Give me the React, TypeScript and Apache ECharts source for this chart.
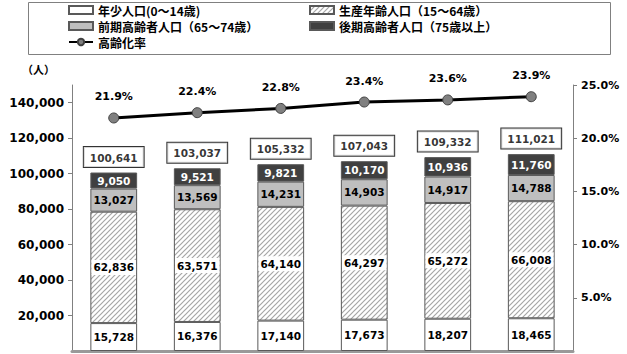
import React, { useEffect, useRef } from "react";
import * as echarts from "echarts";

const categories = ["1", "2", "3", "4", "5", "6"];
const young = [15728, 16376, 17140, 17673, 18207, 18465];
const working = [62836, 63571, 64140, 64297, 65272, 66008];
const earlyElderly = [13027, 13569, 14231, 14903, 14917, 14788];
const lateElderly = [9050, 9521, 9821, 10170, 10936, 11760];
const agingRate = [21.9, 22.4, 22.8, 23.4, 23.6, 23.9];
const leftTicks = [20000, 40000, 60000, 80000, 100000, 120000, 140000];

const NAMES = [
  "年少人口(0～14歳)",
  "生産年齢人口（15～64歳）",
  "前期高齢者人口（65～74歳）",
  "後期高齢者人口（75歳以上）",
  "高齢化率",
];

const NUM_FONT = "DejaVu Sans, Verdana, sans-serif";
const JP_FONT = "'Noto Sans CJK JP', sans-serif";

function fmt(v: number) {
  return v.toLocaleString("en-US");
}

function makeHatch() {
  const c = document.createElement("canvas");
  const s = 5;
  c.width = s;
  c.height = s;
  const ctx = c.getContext("2d")!;
  ctx.fillStyle = "#ffffff";
  ctx.fillRect(0, 0, s, s);
  ctx.strokeStyle = "#a6a6a6";
  ctx.lineWidth = 1.2;
  ctx.beginPath();
  ctx.moveTo(-1, s + 1);
  ctx.lineTo(s + 1, -1);
  ctx.moveTo(-1, 1);
  ctx.lineTo(1, -1);
  ctx.moveTo(s - 1, s + 1);
  ctx.lineTo(s + 1, s - 1);
  ctx.stroke();
  return c;
}

export default function App() {
  const ref = useRef<HTMLDivElement>(null);
  useEffect(() => {
    if (!ref.current) return;
    const chart = echarts.init(ref.current, undefined, { renderer: "svg" });
    const totals = young.map(
      (v, i) => v + working[i] + earlyElderly[i] + lateElderly[i]
    );
    const hatch = { image: makeHatch(), repeat: "repeat" };
    const border = "#595959";
    const barLabel = {
      show: true,
      position: "inside",
      fontFamily: NUM_FONT,
      fontWeight: "bold",
      fontSize: 10.5,
      color: "#000",
      formatter: (p: any) => fmt(p.value),
    };
    const legendText = {
      fontFamily: JP_FONT,
      fontWeight: "bold",
      fontSize: 12,
      color: "#000",
    };
    const mkLegend = (name: string, left: number, top: number, icon?: string) => ({
      data: [icon ? { name, icon } : name],
      left,
      top,
      itemWidth: 24,
      itemHeight: 8,
      itemGap: 0,
      padding: 0,
      textStyle: legendText,
      selectedMode: false,
    });
    chart.setOption({
      animation: false,
      backgroundColor: "#fff",
      legend: [
        mkLegend(NAMES[0], 68, 4, "rect"),
        mkLegend(NAMES[2], 68, 20, "rect"),
        mkLegend(NAMES[4], 68, 36),
        mkLegend(NAMES[1], 309, 4, "rect"),
        mkLegend(NAMES[3], 309, 20, "rect"),
      ],
      graphic: [
        {
          type: "rect",
          shape: { x: 28.5, y: 2.5, width: 582, height: 52 },
          style: { fill: "none", stroke: "#808080", lineWidth: 1 },
          silent: true,
        },
        {
          type: "text",
          x: 22,
          y: 63,
          style: {
            text: "（人）",
            fontFamily: JP_FONT,
            fontWeight: "bold",
            fontSize: 11,
            fill: "#000",
          },
        },
      ],
      grid: { left: 72, right: 54, top: 85, bottom: 3 },
      xAxis: {
        type: "category",
        data: categories,
        axisLine: { lineStyle: { color: "#999", width: 3 } },
        axisTick: { show: false },
        axisLabel: { show: false },
      },
      yAxis: [
        {
          type: "value",
          min: 0,
          max: 150000,
          splitLine: { show: false },
          axisLine: { show: true, lineStyle: { color: "#808080" } },
          axisTick: {
            show: true,
            length: 4,
            customValues: leftTicks,
            lineStyle: { color: "#808080" },
          },
          axisLabel: {
            customValues: leftTicks,
            formatter: (v: number) => fmt(v),
            fontFamily: NUM_FONT,
            fontWeight: "bold",
            fontSize: 12,
            color: "#000",
            margin: 8,
          },
        },
        {
          type: "value",
          min: 0,
          max: 25,
          interval: 5,
          position: "right",
          splitLine: { show: false },
          axisLine: { show: true, lineStyle: { color: "#808080" } },
          axisTick: { show: true, length: 4, lineStyle: { color: "#808080" } },
          axisLabel: {
            showMinLabel: false,
            formatter: (v: number) => v.toFixed(1) + "%",
            fontFamily: NUM_FONT,
            fontWeight: "bold",
            fontSize: 11,
            color: "#000",
            margin: 8,
          },
        },
      ],
      series: [
        {
          name: NAMES[0],
          type: "bar",
          stack: "pop",
          barWidth: "56%",
          data: young,
          itemStyle: { color: "#fff", borderColor: border, borderWidth: 1 },
          label: barLabel,
        },
        {
          name: NAMES[1],
          type: "bar",
          stack: "pop",
          data: working,
          itemStyle: { color: hatch, borderColor: border, borderWidth: 1 },
          label: { ...barLabel, backgroundColor: "#fff", padding: [2, 2] },
        },
        {
          name: NAMES[2],
          type: "bar",
          stack: "pop",
          data: earlyElderly,
          itemStyle: { color: "#bfbfbf", borderColor: border, borderWidth: 1 },
          label: barLabel,
        },
        {
          name: NAMES[3],
          type: "bar",
          stack: "pop",
          data: lateElderly,
          itemStyle: { color: "#404040", borderColor: border, borderWidth: 1 },
          label: { ...barLabel, color: "#fff" },
        },
        {
          name: "total",
          type: "scatter",
          data: totals,
          symbolSize: 1,
          itemStyle: { color: "rgba(0,0,0,0)" },
          label: {
            show: true,
            position: "top",
            distance: 5,
            formatter: (p: any) => fmt(p.value),
            fontFamily: NUM_FONT,
            fontWeight: "bold",
            fontSize: 10.5,
            color: "#000",
            backgroundColor: "#fff",
            borderColor: "#000",
            borderWidth: 1,
            padding: [5, 6, 4, 6],
          },
          z: 5,
        },
        {
          name: NAMES[4],
          type: "line",
          yAxisIndex: 1,
          data: agingRate,
          symbol: "circle",
          symbolSize: 10,
          lineStyle: { color: "#000", width: 3 },
          itemStyle: { color: "#808080", borderColor: "#404040", borderWidth: 1 },
          label: {
            show: true,
            position: "top",
            distance: 10,
            formatter: (p: any) => p.value.toFixed(1) + "%",
            fontFamily: NUM_FONT,
            fontWeight: "bold",
            fontSize: 11,
            color: "#000",
          },
          z: 10,
        },
      ],
    });
    return () => chart.dispose();
  }, []);
  return (
    <div
      ref={ref}
      style={{ position: "fixed", left: 0, top: 0, width: 627, height: 354 }}
    />
  );
}
